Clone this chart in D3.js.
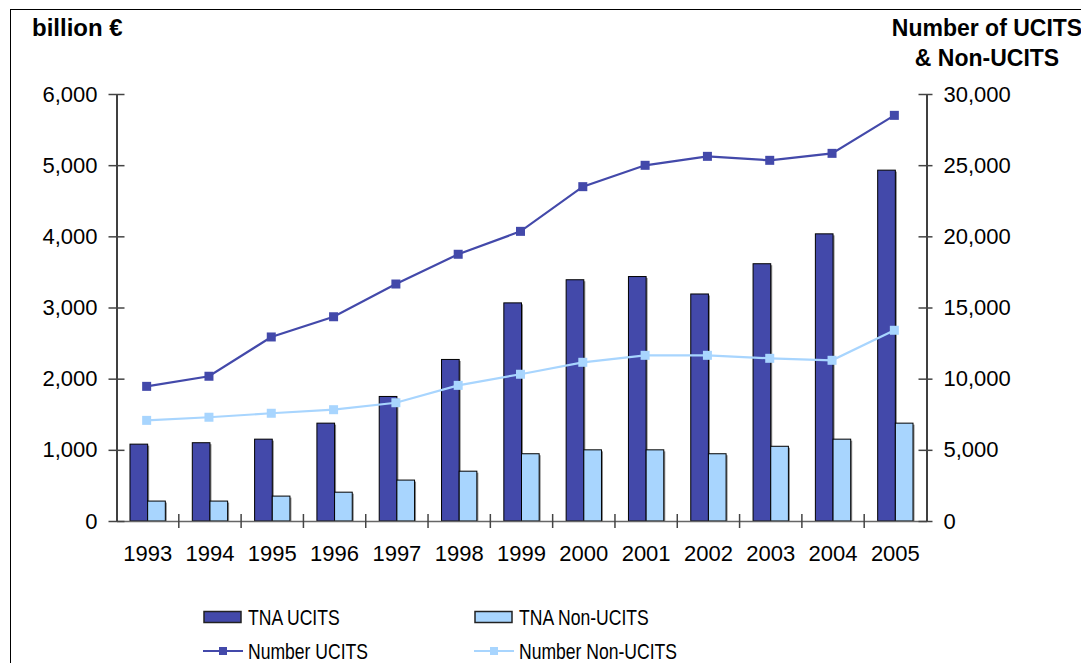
<!DOCTYPE html>
<html>
<head>
<meta charset="utf-8">
<script src="https://cdn.jsdelivr.net/npm/d3@7"></script>
<style>
  html, body { margin: 0; padding: 0; background: #fff; }
  svg { display: block; font-family: "Liberation Sans", Arial, sans-serif; }
</style>
</head>
<body>
<svg id="chart" width="1081" height="663"></svg>
<script>
const years = ["1993","1994","1995","1996","1997","1998","1999","2000","2001","2002","2003","2004","2005"];
const tnaUcits = [1080, 1100, 1150, 1375, 1750, 2270, 3065, 3390, 3435, 3190, 3615, 4035, 4930];
const tnaNonUcits = [280, 280, 350, 405, 575, 700, 945, 1000, 1000, 945, 1050, 1150, 1375];
const numUcits = [9460, 10170, 12930, 14350, 16650, 18740, 20350, 23490, 24990, 25620, 25340, 25830, 28500];
const numNonUcits = [7070, 7290, 7570, 7820, 8310, 9530, 10310, 11150, 11640, 11640, 11430, 11290, 13400];
const leftTicks = [0, 1000, 2000, 3000, 4000, 5000, 6000];
const rightTicks = [0, 5000, 10000, 15000, 20000, 25000, 30000];

const darkBlue = "#4349AA";
const lightBlue = "#A8D5FE";
const FONT = "'Liberation Sans', Arial, sans-serif";

const svg = d3.select("#chart");
const L = 116.5, R = 926.5, T = 94, B = 521;

// frame
svg.append("rect").attr("x", 10.5).attr("y", 9.5).attr("width", 1200).attr("height", 800)
  .attr("fill", "none").attr("stroke", "#000").attr("stroke-width", 1);

const x = d3.scaleBand().domain(years).range([L, R]).padding(0);
const bw = x.bandwidth();
const x1 = d3.scaleBand().domain(["u", "n"]).range([bw * 0.2165, bw * 0.7835]).padding(0);
const yL = d3.scaleLinear().domain([0, 6000]).range([B, T]);
const yR = d3.scaleLinear().domain([0, 30000]).range([B, T]);

// bars
const barData = [["u", tnaUcits, darkBlue], ["n", tnaNonUcits, lightBlue]];
barData.forEach(([key, vals, col]) => {
  const g = svg.append("g");
  g.selectAll("rect.sh").data(vals).join("rect")
    .attr("x", (d, i) => x(years[i]) + x1(key) + 1.5)
    .attr("y", d => yL(d) + 1.5)
    .attr("width", x1.bandwidth())
    .attr("height", d => B - yL(d) - 1.5)
    .attr("fill", "#8a8a8a");
  g.selectAll("rect.b").data(vals).join("rect")
    .attr("x", (d, i) => x(years[i]) + x1(key))
    .attr("y", d => yL(d))
    .attr("width", x1.bandwidth())
    .attr("height", d => B - yL(d))
    .attr("fill", col).attr("stroke", "#000").attr("stroke-width", 1);
});

// x axis
const xAxis = svg.append("g").attr("transform", `translate(0,${B})`)
  .call(d3.axisBottom(x).tickSize(0).tickPadding(24));
xAxis.select(".domain").attr("stroke", "#666").attr("stroke-width", 1.5);
xAxis.selectAll("text").attr("font-size", 22).attr("fill", "#000").attr("font-family", FONT);
years.forEach((yr, i) => {
  if (i === 0) return;
  svg.append("line").attr("x1", x(yr)).attr("x2", x(yr)).attr("y1", B - 7).attr("y2", B + 7)
    .attr("stroke", "#444").attr("stroke-width", 1.5);
});

// left axis
const la = svg.append("g").attr("transform", `translate(${L},0)`)
  .call(d3.axisLeft(yL).tickValues(leftTicks).tickFormat(d3.format(",")).tickSize(8).tickPadding(11).tickSizeOuter(0));
la.select(".domain").attr("stroke", "#000").attr("stroke-width", 1.5);
la.selectAll(".tick line").attr("x2", -8).attr("x1", 8).attr("stroke", "#444").attr("stroke-width", 1.5);
la.selectAll("text").attr("font-size", 22).attr("fill", "#000").attr("font-family", FONT);

// right axis
const ra = svg.append("g").attr("transform", `translate(${R},0)`)
  .call(d3.axisRight(yR).tickValues(rightTicks).tickFormat(d3.format(",")).tickSize(7).tickPadding(10).tickSizeOuter(0));
ra.select(".domain").attr("stroke", "#000").attr("stroke-width", 1.5);
ra.selectAll(".tick line").attr("x1", -8).attr("x2", 6).attr("stroke", "#444").attr("stroke-width", 1.5);
ra.selectAll("text").attr("font-size", 22).attr("fill", "#000").attr("font-family", FONT);

// lines
const cx = (i) => x(years[i]) + bw * 0.5 - 1;
const lineGen = d3.line().x((d, i) => cx(i)).y(d => yR(d));
[[numUcits, darkBlue], [numNonUcits, lightBlue]].forEach(([vals, col]) => {
  svg.append("path").datum(vals).attr("d", lineGen).attr("fill", "none")
    .attr("stroke", col).attr("stroke-width", 2.2);
  svg.append("g").selectAll("rect").data(vals).join("rect")
    .attr("x", (d, i) => cx(i) - 4.5).attr("y", d => yR(d) - 4.5)
    .attr("width", 9).attr("height", 9).attr("fill", col);
});

// titles
svg.append("text").attr("x", 32).attr("y", 36).attr("font-size", 24).attr("font-weight", "bold")
  .attr("font-family", FONT).text("billion €");
const rt = svg.append("text").attr("font-size", 23).attr("font-weight", "bold").attr("text-anchor", "middle")
  .attr("font-family", FONT);
rt.append("tspan").attr("x", 987).attr("y", 36).text("Number of UCITS");
rt.append("tspan").attr("x", 987).attr("y", 66).text("& Non-UCITS");

// legend
const legend = [
  {label: "TNA UCITS", type: "bar", color: darkBlue, x: 204, y: 617},
  {label: "TNA Non-UCITS", type: "bar", color: lightBlue, x: 475, y: 617},
  {label: "Number UCITS", type: "line", color: darkBlue, x: 204, y: 651},
  {label: "Number Non-UCITS", type: "line", color: lightBlue, x: 475, y: 651}
];
legend.forEach(l => {
  const g = svg.append("g");
  if (l.type === "bar") {
    g.append("rect").attr("x", l.x).attr("y", l.y - 5.5).attr("width", 37).attr("height", 11)
      .attr("fill", l.color).attr("stroke", "#222").attr("stroke-width", 1.5);
  } else {
    g.append("line").attr("x1", l.x - 1).attr("x2", l.x + 39).attr("y1", l.y).attr("y2", l.y)
      .attr("stroke", l.color).attr("stroke-width", 2);
    g.append("rect").attr("x", l.x + 15).attr("y", l.y - 4).attr("width", 8).attr("height", 8).attr("fill", l.color);
  }
  const t = g.append("text").attr("x", l.x + 44).attr("y", l.y).attr("dy", "0.35em").attr("font-size", 22.5)
    .attr("font-family", FONT).text(l.label);
  const w = t.node().getComputedTextLength();
  t.attr("textLength", w * 0.78).attr("lengthAdjust", "spacingAndGlyphs");
});
</script>
</body>
</html>
